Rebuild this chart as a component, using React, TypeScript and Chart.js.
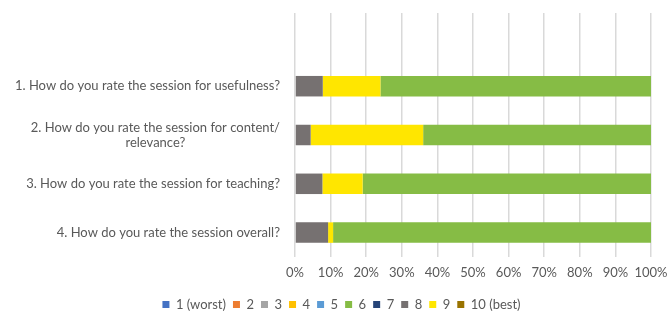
import React, { useEffect, useRef } from "react";
import { Chart, registerables } from "chart.js";

Chart.register(...registerables);

const categories: (string | string[])[] = [
  "",
  "1. How do you rate the session for usefulness?",
  ["2. How do you rate the session for content/", "relevance?"],
  "3. How do you rate the session for teaching?",
  "4. How do you rate the session overall?",
];

const seriesNames = ["1 (worst)", "2", "3", "4", "5", "6", "7", "8", "9", "10 (best)"];
const seriesColors = [
  "#4472C4", "#ED7D31", "#A5A5A5", "#FFC000", "#5B9BD5",
  "#86BC45", "#264478", "#767171", "#FFE600", "#997300",
];

const s1 = [null, 0, 0, 0, 0];
const s2 = [null, 0, 0, 0, 0];
const s3 = [null, 0, 0, 0, 0];
const s4 = [null, 0, 0, 0, 0];
const s5 = [null, 0, 0, 0, 0];
const s6 = [null, 76, 64, 81, 89.3];
const s7 = [null, 0, 0, 0, 0];
const s8 = [null, 7.8, 4.4, 7.7, 9.3];
const s9 = [null, 16.2, 31.6, 11.3, 1.4];
const s10 = [null, 0, 0, 0, 0];
const seriesValues = [s1, s2, s3, s4, s5, s6, s7, s8, s9, s10];

const xTicks = [0, 10, 20, 30, 40, 50, 60, 70, 80, 90, 100];

const FONT = "Lato, 'Open Sans', sans-serif";
const TEXT = "#595959";
const FS = 13;

const yLabelPlugin = {
  id: "yLabels",
  afterDraw(chart: any) {
    const ys = chart.scales.y;
    const ctx = chart.ctx;
    const right = chart.chartArea.left - 15;
    ctx.save();
    ctx.font = `${FS}px ${FONT}`;
    ctx.fillStyle = TEXT;
    ctx.textAlign = "center";
    ctx.textBaseline = "middle";
    categories.forEach((lab, i) => {
      const lines = Array.isArray(lab) ? lab : [lab];
      if (!lines[0]) return;
      const w = Math.max(...lines.map((l) => ctx.measureText(l).width));
      const cx = right - w / 2;
      const lh = 15;
      const y0 = ys.getPixelForValue(i) - ((lines.length - 1) * lh) / 2;
      lines.forEach((l, k) => ctx.fillText(l, cx, y0 + k * lh));
    });
    ctx.restore();
  },
};

export default function App() {
  const ref = useRef<HTMLCanvasElement>(null);
  useEffect(() => {
    document.body.style.margin = "0";
    const chart = new Chart(ref.current!, {
      type: "bar",
      data: {
        labels: categories.map((c) => (Array.isArray(c) ? c.join(" ") : c)),
        datasets: seriesNames.map((name, i) => ({
          label: name,
          data: seriesValues[i] as any,
          backgroundColor: seriesColors[i],
          borderWidth: 0,
          categoryPercentage: 1,
          barPercentage: 0.42,
          order: i === 5 ? 1 : 0,
        })),
      },
      options: {
        indexAxis: "y",
        animation: false,
        responsive: true,
        maintainAspectRatio: false,
        layout: { padding: { top: 13, right: 17, bottom: -10, left: 32 } },
        scales: {
          x: {
            stacked: true,
            min: 0,
            max: 100,
            afterBuildTicks: (s: any) => {
              s.ticks = xTicks.map((v) => ({ value: v }));
            },
            afterFit: (s: any) => {
              s.height = 34;
              s.paddingRight = 0;
              s.paddingLeft = 0;
            },
            grid: { color: "#D9D9D9", lineWidth: 1.5, drawTicks: false },
            border: { display: false },
            ticks: {
              padding: 8,
              maxRotation: 0,
              minRotation: 0,
              autoSkip: false,
              color: TEXT,
              font: { family: FONT, size: FS },
              callback: (v: any) => v + "%",
            },
          },
          y: {
            stacked: true,
            grid: { display: false },
            border: { display: false },
            ticks: { display: false },
            afterFit: (s: any) => {
              s.width = 263;
            },
          },
        },
        plugins: {
          tooltip: { enabled: false },
          legend: {
            position: "bottom",
            labels: {
              boxWidth: 7,
              boxHeight: 7,
              padding: 7,
              color: TEXT,
              font: { family: FONT, size: FS },
              sort: (a: any, b: any) => a.datasetIndex - b.datasetIndex,
            },
          },
        },
      },
      plugins: [yLabelPlugin],
    });
    return () => chart.destroy();
  }, []);
  return (
    <div style={{ position: "fixed", left: 0, top: 0, width: 668, height: 311 }}>
      <canvas ref={ref} />
    </div>
  );
}
